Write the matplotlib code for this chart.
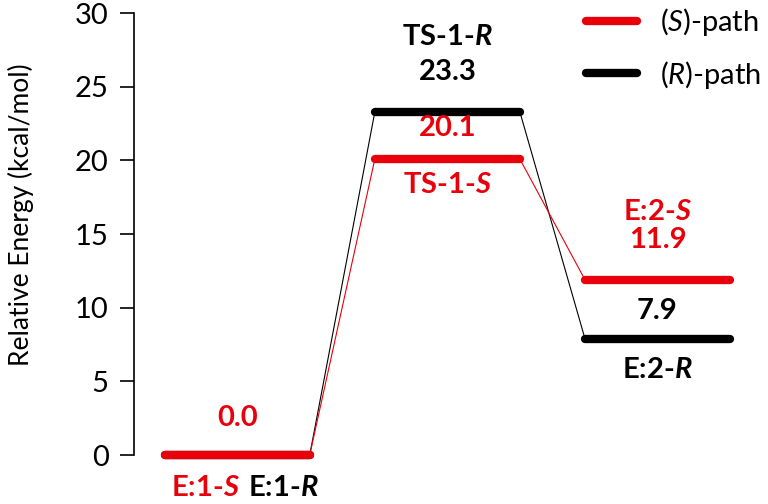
import matplotlib.pyplot as plt
import numpy as np

plt.rcParams['font.family'] = ['Lato', 'DejaVu Sans']
plt.rcParams['mathtext.fontset'] = 'custom'
plt.rcParams['mathtext.rm'] = 'Lato'
plt.rcParams['mathtext.it'] = 'Lato:italic'
plt.rcParams['mathtext.bf'] = 'Lato:bold'
plt.rcParams['mathtext.bfit'] = 'Lato:bold:italic'

# datos del diagrama de energia
etapas = [1, 2, 3]
energia_S = [0.0, 20.1, 11.9]
energia_R = [0.0, 23.3, 7.9]
nombres_S = ['E:1-', 'TS-1-', 'E:2-']
nombres_R = ['E:1-', 'TS-1-', 'E:2-']
yticks = [0, 5, 10, 15, 20, 25, 30]

ROJO = '#e8000b'
NEGRO = '#000000'
media = 0.345
FS = 21

fig = plt.figure(figsize=(7.68, 5.04), dpi=100)
ax = fig.add_axes([0.174, 0.097, 0.826, 0.877])

# lineas de conexion (finas)
for energias, color in [(energia_R, NEGRO), (energia_S, ROJO)]:
    for i in range(len(etapas) - 1):
        ax.plot([etapas[i] + media, etapas[i + 1] - media],
                [energias[i], energias[i + 1]], color=color, lw=0.8, zorder=1)

# niveles (gruesos)
for energias, color, lab in [(energia_R, NEGRO, '($\\mathit{R}$)-path'),
                             (energia_S, ROJO, '($\\mathit{S}$)-path')]:
    for i, x in enumerate(etapas):
        ax.plot([x - media, x + media], [energias[i], energias[i]], color=color,
                lw=6, solid_capstyle='round', zorder=2, clip_on=False,
                label=lab if i == 0 else None)

kw = dict(ha='center', va='center', fontsize=FS, fontweight='bold')
# E:1
ax.text(etapas[0], 2.5, f'{energia_S[0]:.1f}', color=ROJO, **kw)
ax.text(etapas[0] - 0.15, -2.2, nombres_S[0] + '$\\mathbfit{S}$', color=ROJO,
        clip_on=False, **kw)
ax.text(etapas[0] + 0.22, -2.2, nombres_R[0] + '$\\mathbfit{R}$', color=NEGRO,
        clip_on=False, **kw)
# TS-1
ax.text(etapas[1], 28.4, nombres_R[1] + '$\\mathbfit{R}$', color=NEGRO, **kw)
ax.text(etapas[1], 26.0, f'{energia_R[1]:.1f}', color=NEGRO, **kw)
ax.text(etapas[1], 22.2, f'{energia_S[1]:.1f}', color=ROJO, **kw)
ax.text(etapas[1], 18.3, nombres_S[1] + '$\\mathbfit{S}$', color=ROJO, **kw)
# E:2
ax.text(etapas[2], 16.5, nombres_S[2] + '$\\mathbfit{S}$', color=ROJO, **kw)
ax.text(etapas[2], 14.6, f'{energia_S[2]:.1f}', color=ROJO, **kw)
ax.text(etapas[2], 9.8, f'{energia_R[2]:.1f}', color=NEGRO, **kw)
ax.text(etapas[2], 5.8, nombres_R[2] + '$\\mathbfit{R}$', color=NEGRO, **kw)

ax.set_xlim(0.507, 3.526)
ax.set_ylim(0, 30)
ax.set_yticks(yticks)
ax.tick_params(axis='y', labelsize=FS, length=10, width=1.2, direction='out', pad=8)
ax.set_xticks([])
for s in ['top', 'right', 'bottom']:
    ax.spines[s].set_visible(False)
ax.spines['left'].set_linewidth(1.2)
ax.set_ylabel('Relative Energy (kcal/mol)', fontsize=19)
ax.yaxis.set_label_coords(-0.157, 0.545)

h, l = ax.get_legend_handles_labels()
ax.legend(h[::-1], l[::-1], loc='upper right', frameon=False, fontsize=FS,
          handlelength=1.75, handletextpad=0.8, bbox_to_anchor=(1.03, 1.075),
          labelspacing=0.7)

fig.savefig('out.png', dpi=100)
